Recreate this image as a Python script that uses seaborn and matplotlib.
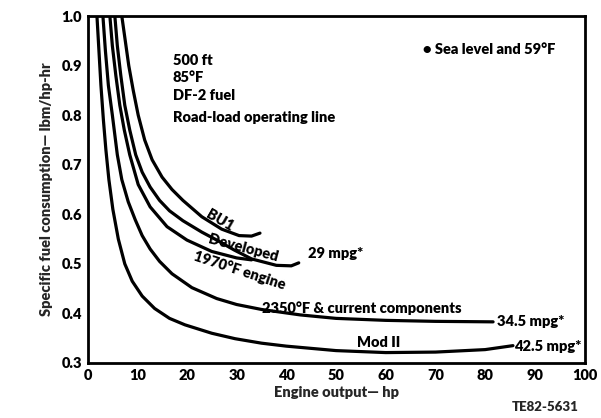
import matplotlib
matplotlib.use("Agg")
import matplotlib.pyplot as plt
import seaborn as sns
import pandas as pd

# Engine output (hp) and specific fuel consumption (lbm/hp-hr) for each engine curve
mod2_hp = [1.9, 2.3, 2.7, 3.2, 3.7, 4.3, 5.1, 6.2, 7.5, 9.0, 11.0, 13.5, 16.5, 19.6, 25.0, 29.7, 35.0, 40.0, 50.0, 60.0, 70.0, 80.0, 85.6]
mod2_sfc = [1.0, 0.93, 0.86, 0.79, 0.73, 0.67, 0.61, 0.55, 0.5, 0.465, 0.435, 0.41, 0.39, 0.377, 0.36, 0.349, 0.34, 0.334, 0.325, 0.321, 0.322, 0.327, 0.335]

c2350_hp = [3.1, 3.6, 4.2, 5.0, 6.0, 6.9, 8.2, 9.6, 11.0, 12.6, 14.5, 17.0, 21.0, 26.0, 30.0, 35.0, 42.8, 50.0, 60.0, 70.0, 81.6]
c2350_sfc = [1.0, 0.93, 0.86, 0.8, 0.72, 0.67, 0.625, 0.589, 0.557, 0.53, 0.505, 0.48, 0.452, 0.43, 0.418, 0.408, 0.397, 0.39, 0.386, 0.384, 0.383]

c1970_hp = [4.5, 5.0, 5.7, 6.5, 7.4, 8.5, 10.2, 12.6, 16.0, 20.0, 25.0, 30.0, 33.0]
c1970_sfc = [1.0, 0.94, 0.88, 0.82, 0.77, 0.72, 0.66, 0.615, 0.575, 0.548, 0.525, 0.512, 0.508]

dev_hp = [5.5, 6.0, 6.7, 7.5, 8.5, 9.7, 11.0, 12.6, 14.5, 16.5, 19.2, 23.0, 26.0, 29.5, 33.0, 38.0, 41.0, 42.5]
dev_sfc = [1.0, 0.94, 0.88, 0.82, 0.77, 0.72, 0.685, 0.655, 0.628, 0.607, 0.587, 0.564, 0.548, 0.528, 0.51, 0.497, 0.496, 0.502]

bu1_hp = [6.9, 7.6, 8.3, 9.2, 10.2, 11.5, 13.0, 15.0, 17.0, 19.2, 23.0, 27.0, 30.5, 33.0, 34.7]
bu1_sfc = [1.0, 0.95, 0.9, 0.85, 0.8, 0.75, 0.71, 0.675, 0.65, 0.628, 0.595, 0.57, 0.557, 0.556, 0.562]

x_ticks = [0, 10, 20, 30, 40, 50, 60, 70, 80, 90, 100]
y_ticks = [0.3, 0.4, 0.5, 0.6, 0.7, 0.8, 0.9, 1.0]

curves = {
    "Mod II": (mod2_hp, mod2_sfc),
    "2350F": (c2350_hp, c2350_sfc),
    "1970F": (c1970_hp, c1970_sfc),
    "Developed": (dev_hp, dev_sfc),
    "BU1": (bu1_hp, bu1_sfc),
}
frames = []
for name, (hp, sfc) in curves.items():
    frames.append(pd.DataFrame({"hp": hp, "sfc": sfc, "engine": name}))
df = pd.concat(frames, ignore_index=True)

sns.set_style("white")
FONT = ["Lato", "DejaVu Sans"]
plt.rcParams["font.family"] = FONT
plt.rcParams["font.weight"] = "bold"

fig = plt.figure(figsize=(6.01, 4.18), dpi=100)
ax = fig.add_axes([0.1456, 0.1316, 0.827, 0.8301])

sns.lineplot(data=df, x="hp", y="sfc", hue="engine", units="engine", estimator=None,
             sort=False, palette=["black"] * len(curves), linewidth=2.3,
             legend=False, ax=ax)

ax.set_xlim(0, 100)
ax.set_ylim(0.3, 1.0)
ax.set_xticks(x_ticks)
ax.set_xticklabels([str(t) for t in x_ticks])
ax.set_yticks(y_ticks)
ax.set_yticklabels([f"{t:.1f}" for t in y_ticks])
ax.tick_params(direction="in", length=6, width=1.6, labelsize=10.5, pad=4, colors="black")
for lab in ax.get_xticklabels() + ax.get_yticklabels():
    lab.set_fontweight("heavy")
for sp in ax.spines.values():
    sp.set_linewidth(2.0)
    sp.set_color("black")

ax.set_xlabel("Engine output\u2014 hp", fontsize=10.5, fontweight="heavy", labelpad=3)
ax.set_ylabel("Specific fuel consumption\u2014 lbm/hp-hr", fontsize=10.5,
              fontweight="heavy", labelpad=6)

tkw = dict(fontsize=10.5, fontweight="heavy", color="black")
ax.text(17.2, 0.910, "500 ft", va="center", **tkw)
ax.text(17.2, 0.876, "85\u00b0F", va="center", **tkw)
ax.text(17.2, 0.839, "DF-2 fuel", va="center", **tkw)
ax.text(17.2, 0.795, "Road-load operating line", va="center", **tkw)
ax.text(67.5, 0.932, "\u2022 Sea level and 59\u00b0F", va="center", **tkw)

ax.text(26.7, 0.587, "BU1", ha="center", va="center", rotation=-30, **tkw)
ax.text(31.3, 0.532, "Developed", ha="center", va="center", rotation=-15, **tkw)
ax.text(30.7, 0.488, "1970\u00b0F engine", ha="center", va="center", rotation=-18, **tkw)
ax.text(44.3, 0.520, "29 mpg*", va="center", **tkw)
ax.text(35.1, 0.411, "2350\u00b0F & current components", va="center", **tkw)
ax.text(82.4, 0.383, "34.5 mpg*", va="center", **tkw)
ax.text(58.5, 0.341, "Mod II", ha="center", va="center", **tkw)
ax.text(85.8, 0.333, "42.5 mpg*", va="center", **tkw)

fig.text(0.907, 0.026, "TE82-5631", ha="center", va="center", fontsize=9.5, fontweight="heavy")

fig.savefig("out.png", dpi=100)
